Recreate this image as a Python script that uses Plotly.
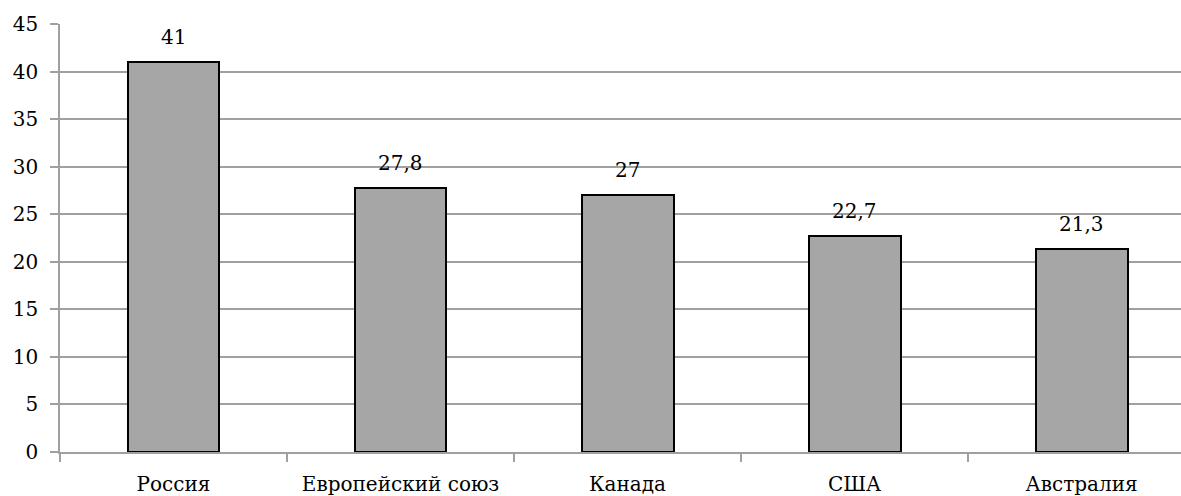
import plotly.graph_objects as go

categories = ["Россия", "Европейский союз", "Канада", "США", "Австралия"]
values = [41, 27.8, 27, 22.7, 21.3]
labels = ["41", "27,8", "27", "22,7", "21,3"]
y_ticks = [0, 5, 10, 15, 20, 25, 30, 35, 40, 45]

grid = "#a0a0a0"
font = dict(family="DejaVu Serif", size=20, color="black")

fig = go.Figure()
fig.add_trace(go.Bar(
    x=categories, y=values, width=0.405,
    marker=dict(color="#a6a6a6", line=dict(color="black", width=2)),
    showlegend=False, hoverinfo="skip",
))
for c, v, t in zip(categories, values, labels):
    fig.add_annotation(x=c, y=v, text=t, showarrow=False, yanchor="bottom",
                       yshift=11, font=font)

fig.update_layout(
    width=1181, height=496,
    margin=dict(l=60, r=0, t=24, b=44),
    paper_bgcolor="white", plot_bgcolor="white",
    font=font, bargap=0,
)
fig.update_yaxes(
    range=[0, 45], tickvals=y_ticks, ticktext=[str(v) for v in y_ticks],
    showgrid=True, gridcolor=grid, gridwidth=1.5,
    ticks="outside", ticklen=8, tickcolor=grid, tickwidth=1.5,
    showline=True, linecolor=grid, linewidth=1.5, zeroline=False,
    tickfont=font, ticklabelstandoff=8,
)
fig.update_xaxes(
    type="category", range=[-0.5, 4.438],
    showgrid=False, ticks="outside", tickson="boundaries", ticklen=8,
    tickcolor=grid, tickwidth=1.5,
    showline=True, linecolor=grid, linewidth=1.5, tickfont=font,
    ticklabelstandoff=13,
)
fig.write_html("out.html")
